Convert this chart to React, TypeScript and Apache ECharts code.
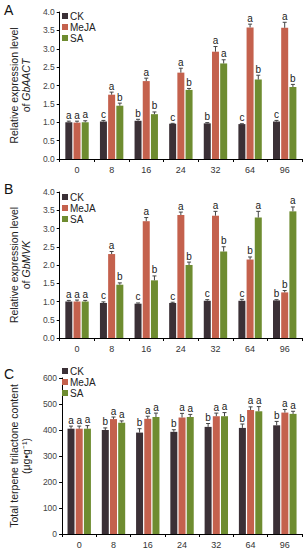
import React, { useEffect, useRef } from "react";
import * as echarts from "echarts";

const categories = ["0", "8", "16", "24", "32", "64", "96"];
const treatments = ["CK", "MeJA", "SA"];

// Panel A: GbAACT
const aCK = [1.0, 1.02, 1.04, 0.96, 0.97, 0.95, 1.02];
const aMeJA = [0.99, 1.75, 2.12, 2.35, 2.92, 3.58, 3.57];
const aSA = [1.0, 1.45, 1.22, 1.88, 2.6, 2.16, 1.96];
const aCKErr = [0.03, 0.03, 0.04, 0.01, 0.02, 0.01, 0.03];
const aMeJAErr = [0.04, 0.07, 0.08, 0.12, 0.14, 0.09, 0.15];
const aSAErr = [0.04, 0.07, 0.06, 0.04, 0.1, 0.12, 0.07];
const aCKLet = ["a", "c", "b", "c", "b", "c", "c"];
const aMeJALet = ["a", "a", "a", "a", "a", "a", "a"];
const aSALet = ["a", "b", "b", "b", "a", "b", "b"];

// Panel B: GbMVK
const bCK = [1.0, 0.96, 0.94, 0.96, 1.02, 1.02, 1.03];
const bMeJA = [1.0, 2.3, 3.2, 3.37, 3.35, 2.15, 1.25];
const bSA = [1.0, 1.46, 1.58, 2.0, 2.37, 3.3, 3.47];
const bCKErr = [0.03, 0.03, 0.02, 0.02, 0.03, 0.04, 0.02];
const bMeJAErr = [0.04, 0.07, 0.1, 0.08, 0.12, 0.07, 0.05];
const bSAErr = [0.03, 0.05, 0.12, 0.08, 0.13, 0.17, 0.12];
const bCKLet = ["a", "c", "c", "c", "c", "c", "b"];
const bMeJALet = ["a", "a", "a", "a", "a", "b", "b"];
const bSALet = ["a", "b", "b", "b", "b", "a", "a"];

// Panel C: total terpene trilactone content
const cCK = [405, 400, 390, 393, 412, 408, 418];
const cMeJA = [405, 442, 443, 448, 453, 477, 467];
const cSA = [405, 428, 450, 450, 453, 472, 462];
const cCKErr = [10, 8, 15, 8, 13, 15, 15];
const cMeJAErr = [10, 8, 10, 16, 12, 12, 12];
const cSAErr = [12, 7, 15, 10, 14, 18, 10];
const cCKLet = ["a", "b", "b", "b", "b", "b", "b"];
const cMeJALet = ["a", "a", "a", "a", "a", "a", "a"];
const cSALet = ["a", "a", "a", "a", "a", "a", "a"];

const colors = ["#3b3036", "#c4614d", "#6e8c30"];
const FONT = "Liberation Sans, Arial, sans-serif";
const BAR_W = 7;
const GAP = 1.2;

function App() {
  const ref = useRef<HTMLDivElement>(null);
  useEffect(() => {
    if (!ref.current) return;
    const chart = echarts.init(ref.current, null, { renderer: "svg" });

    const panels = [
      { top: 12, height: 147, max: 4, interval: 0.5, dec: 1, legendTop: 11,
        vals: [aCK, aMeJA, aSA], errs: [aCKErr, aMeJAErr, aSAErr], lets: [aCKLet, aMeJALet, aSALet],
        name: "Relative expression level\nof {i|GbAACT}" },
      { top: 192, height: 146, max: 4, interval: 0.5, dec: 1, legendTop: 192,
        vals: [bCK, bMeJA, bSA], errs: [bCKErr, bMeJAErr, bSAErr], lets: [bCKLet, bMeJALet, bSALet],
        name: "Relative expression level\nof {i|GbMVK}" },
      { top: 378, height: 156, max: 600, interval: 100, dec: 0, legendTop: 366,
        vals: [cCK, cMeJA, cSA], errs: [cCKErr, cMeJAErr, cSAErr], lets: [cCKLet, cMeJALet, cSALet],
        name: "Total terpene trilactone content\n(μg•g⁻¹)" },
    ];

    const grid: any[] = [];
    const xAxis: any[] = [];
    const yAxis: any[] = [];
    const series: any[] = [];
    const legend: any[] = [];

    panels.forEach((p, pi) => {
      grid.push({ left: 57, top: p.top, width: 245, height: p.height });
      xAxis.push({
        type: "category", gridIndex: pi, data: categories,
        axisLine: { lineStyle: { color: "#000", width: 1 } },
        axisTick: { show: true, length: 3, lineStyle: { color: "#000" } },
        axisLabel: { fontSize: 9, color: "#333", fontFamily: FONT, margin: 6 },
      });
      yAxis.push({
        type: "value", gridIndex: pi, min: 0, max: p.max, interval: p.interval,
        axisLine: { show: true, lineStyle: { color: "#000", width: 1 } },
        axisTick: { show: true, length: 3, lineStyle: { color: "#000" } },
        splitLine: { show: false },
        axisLabel: { fontSize: 8.5, color: "#444", fontFamily: FONT, margin: 5,
          formatter: (v: number) => v.toFixed(p.dec) },
        name: p.name, nameLocation: "middle", nameRotate: 90, nameGap: 24,
        nameTextStyle: { fontSize: 10.5, color: "#222", fontFamily: FONT, lineHeight: 12,
          rich: { i: { fontStyle: "italic", fontSize: 10.5, fontFamily: FONT, color: "#222" } } },
      });
      legend.push({
        data: treatments, orient: "vertical", left: 62, top: p.legendTop,
        icon: "rect", itemWidth: 6, itemHeight: 6, itemGap: 1,
        textStyle: { fontSize: 10, color: "#222", fontFamily: FONT, padding: [0, 0, 0, -3] },
        selectedMode: false, padding: 0,
      });
      treatments.forEach((t, k) => {
        series.push({
          type: "bar", name: t, xAxisIndex: pi, yAxisIndex: pi,
          data: p.vals[k], barWidth: BAR_W, barGap: (GAP / BAR_W * 100) + "%",
          itemStyle: { color: colors[k] },
        });
      });
      treatments.forEach((t, k) => {
        const offset = (k - 1) * (BAR_W + GAP);
        const letters = p.lets[k];
        series.push({
          type: "custom", name: t + "-err", xAxisIndex: pi, yAxisIndex: pi, z: 5,
          data: p.vals[k].map((v, i) => [i, v, p.errs[k][i]]),
          renderItem: (params: any, api: any) => {
            const ci = api.value(0);
            const v = api.value(1);
            const e = api.value(2);
            const base = api.coord([ci, v]);
            const top = api.coord([ci, v + e]);
            const x = base[0] + offset;
            return {
              type: "group",
              children: [
                { type: "line", shape: { x1: x, y1: base[1], x2: x, y2: top[1] },
                  style: { stroke: "#444", lineWidth: 1 } },
                { type: "line", shape: { x1: x - 2, y1: top[1], x2: x + 2, y2: top[1] },
                  style: { stroke: "#444", lineWidth: 1 } },
                { type: "text", x: x, y: top[1] - 1,
                  style: { text: letters[params.dataIndex], textAlign: "center", textVerticalAlign: "bottom",
                    fontSize: 10, fill: "#222", fontFamily: FONT } },
              ],
            };
          },
        });
      });
    });

    chart.setOption({
      animation: false,
      color: colors,
      grid, xAxis, yAxis, series, legend,
      graphic: [
        { type: "text", left: 4, top: 3, style: { text: "A", fontSize: 14, fill: "#111", fontFamily: FONT } },
        { type: "text", left: 4, top: 182, style: { text: "B", fontSize: 14, fill: "#111", fontFamily: FONT } },
        { type: "text", left: 4, top: 367, style: { text: "C", fontSize: 14, fill: "#111", fontFamily: FONT } },
      ],
    });
    return () => chart.dispose();
  }, []);
  return <div ref={ref} style={{ width: 308, height: 550, position: "absolute", left: 0, top: 0 }} />;
}

export default App;
